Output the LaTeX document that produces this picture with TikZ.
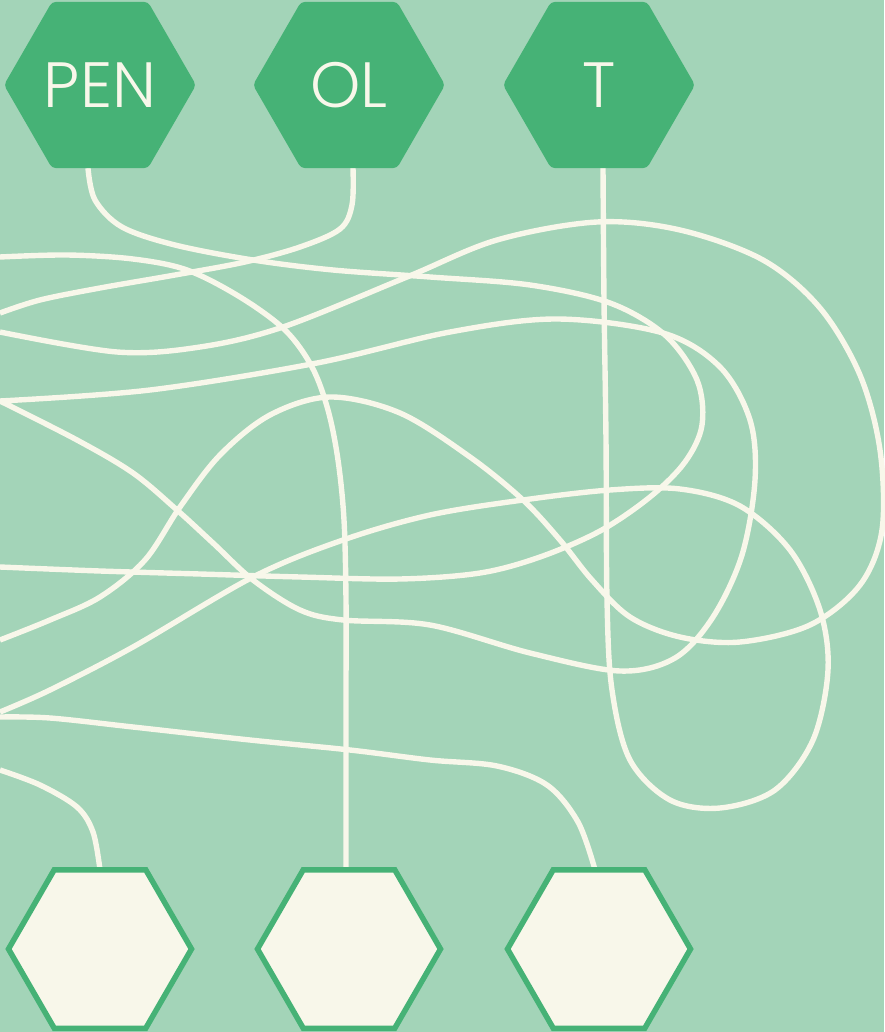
\documentclass[tikz,border=0pt]{standalone}
\usepackage{fontspec}
\newfontfamily\hexfont{Poppins Light}
\usepackage{tikz}
\usetikzlibrary{shapes.geometric, backgrounds}
\usepackage{xcolor}
\definecolor{boardgreen}{HTML}{A3D4B8}
\definecolor{hexgreen}{HTML}{46B276}
\definecolor{cream}{HTML}{F8F7EA}

\begin{document}
\begin{tikzpicture}[x=1pt, y=-1pt,
    wire/.style={draw=cream, line width=5.4pt, line join=round},
    tophex/.style={regular polygon, regular polygon sides=6, minimum size=192pt,
      inner sep=0pt, outer sep=0pt, fill=hexgreen, rounded corners=4pt,
      text=cream, font=\hexfont\fontsize{64}{64}\selectfont},
    bothex/.style={regular polygon, regular polygon sides=6, minimum size=183pt,
      inner sep=0pt, outer sep=0pt, fill=cream, draw=hexgreen, line width=5.5pt}]
    \useasboundingbox (0,0) rectangle (884,1032);

    % Top hexagons
    \node[tophex] (pen) at (100,85) {PEN};
    \node[tophex] (ol) at (349,85) {OL};
    \node[tophex] (t) at (599,85) {T};

    % Bottom hexagons
    \node[bothex] (outA) at (100,949) {};
    \node[bothex] (outB) at (349,949) {};
    \node[bothex] (outC) at (599,949) {};

    % Loose ends on the left edge
    \coordinate (edgeA) at (0,567);
    \coordinate (edgeB) at (0,313);
    \coordinate (edgeC) at (0,257);
    \coordinate (edgeD) at (0,332);
    \coordinate (edgeE) at (0,640);
    \coordinate (edgeF) at (0,401);
    \coordinate (edgeG) at (0,712);
    \coordinate (edgeH) at (0,717);
    \coordinate (edgeI) at (0,770);

    \begin{pgfonlayer}{background}
      \fill[boardgreen] (0,0) rectangle (884,1032);
      % PEN
      \draw[wire] plot[smooth, tension=0.55] coordinates {([xshift=-12pt]pen.south) (95,200)
        (122,227) (175,245) (253,260) (333,270) (430,277) (530,285) (610,303) (665,335) (697,380)
        (702,425) (685,462) (650,497) (600,531) (540,557) (480,573) (400,579) (300,577) (200,574)
        (100,571) (edgeA)};
      % OL
      \draw[wire] plot[smooth, tension=0.55] coordinates {([xshift=4pt]ol.south) (352,205)
        (340,229) (300,247) (245,262) (175,275) (100,288) (40,300) (edgeB)};
      % T
      \draw[wire] plot[smooth, tension=0.55] coordinates {([xshift=4pt]t.south) (604,300)
        (606,440) (607,600) (612,690) (630,760) (670,800) (720,808) (775,790) (813,740) (828,670)
        (820,610) (790,550) (740,506) (680,489) (610,490) (523,500) (430,515) (343,540) (253,577)
        (133,647) (50,690) (edgeG)};
      % into the middle hexagon
      \draw[wire] plot[smooth, tension=0.55] coordinates {(edgeC) (67,255) (133,259) (187,270)
        (240,297) (285,330) (312,367) (328,410) (338,460) (344,520) (346,600) (346,700)
        ([xshift=-3pt]outB.north)};
      % into the right hexagon
      \draw[wire] plot[smooth, tension=0.55] coordinates {(edgeH) (50,718) (133,727) (250,740)
        (350,750) (430,760) (497,766) (547,785) (578,822) ([xshift=-4pt]outC.north)};
      % into the left hexagon
      \draw[wire] plot[smooth, tension=0.55] coordinates {(edgeI) (40,785) (77,807) (93,832)
        (outA.north)};
      % loose loops
      \draw[wire] plot[smooth, tension=0.55] coordinates {(edgeD) (117,352) (200,347) (283,327)
        (407,277) (497,240) (597,222) (680,230) (763,260) (820,308) (860,375) (880,450) (882,530)
        (860,585) (810,625) (740,642) (680,637) (630,617) (592,580) (560,540) (523,500) (470,457)
        (400,413) (330,397) (270,415) (220,455) (180,507) (145,560) (100,597) (50,620) (edgeE)};
      \draw[wire] plot[smooth, tension=0.55] coordinates {(edgeF) (150,390) (317,363) (450,332)
        (557,319) (663,333) (720,367) (750,420) (755,480) (742,555) (713,617) (675,658) (620,671)
        (530,653) (430,625) (343,620) (300,610) (253,580) (213,543) (177,510) (133,473) (77,440)
        (edgeF)};
    \end{pgfonlayer}
  \end{tikzpicture}
\end{document}
